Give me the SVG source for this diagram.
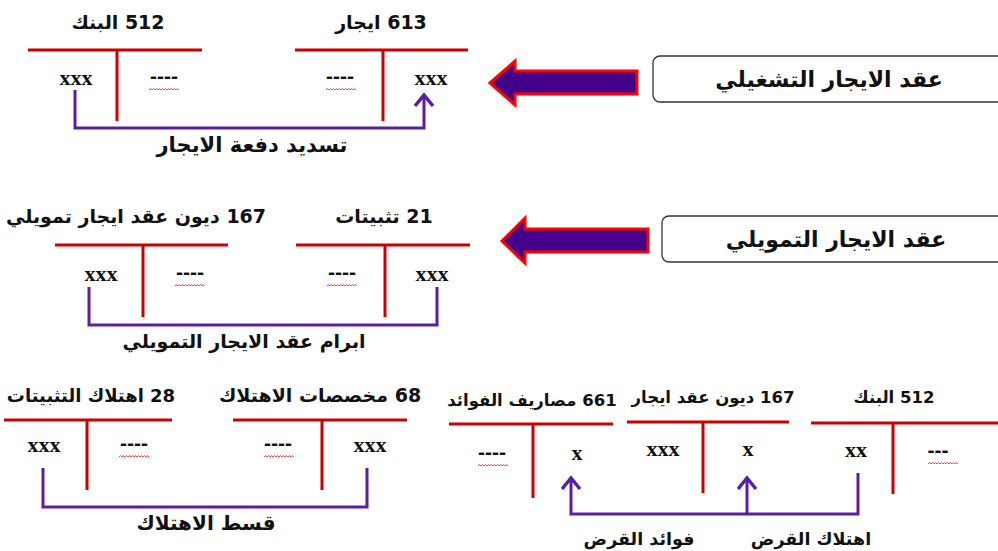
<svg xmlns="http://www.w3.org/2000/svg" xmlns:xlink="http://www.w3.org/1999/xlink" width="998" height="551" viewBox="0 0 998 551">
  <style>
    .bg { fill: #ffffff; }
    .acct { stroke: #cc0000; stroke-width: 3; fill: none; }
    .flow { stroke: #5a1e9e; stroke-width: 3; fill: none; stroke-linejoin: miter; }
    .head { stroke: #5a1e9e; stroke-width: 3.5; fill: none; stroke-linecap: butt; stroke-linejoin: miter; }
    .title { font-family: "DejaVu Sans", "Noto Sans", sans-serif; font-weight: bold; font-size: 19px; fill: #111; direction: rtl; text-anchor: middle; }
    .title.sm { font-size: 16.5px; }
    .label { font-family: "DejaVu Sans", "Noto Sans", sans-serif; font-weight: bold; font-size: 21px; fill: #111; direction: rtl; text-anchor: middle; }
    .label.md { font-size: 19px; }
    .label.sm { font-size: 17.5px; }
    .boxtext { font-family: "DejaVu Sans", "Noto Sans", sans-serif; font-weight: bold; font-size: 22px; fill: #111; direction: rtl; text-anchor: middle; }
    .amt { font-family: "Liberation Serif", serif; font-weight: bold; font-size: 22px; fill: #111; text-anchor: middle; }
    .dash { font-family: "Liberation Sans", sans-serif; font-weight: bold; font-size: 21px; fill: #111; text-anchor: middle; }
    .box { fill: #ffffff; stroke: #333; stroke-width: 1.3; }
    .bigarrow { fill: #440088; stroke: #ff0000; stroke-width: 3; stroke-linejoin: miter; }
    .wave { stroke: #ff3030; stroke-width: 0.9; fill: none; }
  </style>
  <defs>
    <path id="squiggle" class="wave" d="M0 0 l1.5 -1.5 l1.5 1.5 l1.5 -1.5 l1.5 1.5 l1.5 -1.5 l1.5 1.5 l1.5 -1.5 l1.5 1.5 l1.5 -1.5 l1.5 1.5 l1.5 -1.5 l1.5 1.5 l1.5 -1.5 l1.5 1.5 l1.5 -1.5 l1.5 1.5 l1.5 -1.5 l1.5 1.5 l1.5 -1.5 l1.5 1.5"/>
  </defs>
  <rect class="bg" x="0" y="0" width="998" height="551"/>

  <!-- Operating lease banner -->
  <g id="operating-lease">
    <rect class="box" x="653" y="56" width="360" height="46" rx="7"/>
    <text class="boxtext" x="829" y="87">عقد الايجار التشغيلي</text>
  </g>
  <g id="operating-arrow">
    <polygon class="bigarrow" points="490,83 515,61 515,71 637,71 637,94 515,94 515,105"/>
  </g>

  <!-- Finance lease banner -->
  <g id="finance-lease">
    <rect class="box" x="662" y="216" width="360" height="46" rx="7"/>
    <text class="boxtext" x="836" y="247">عقد الايجار التمويلي</text>
  </g>
  <g id="finance-arrow">
    <polygon class="bigarrow" points="502,241 525,218 525,229 648,229 648,252 525,252 525,263"/>
  </g>

  <!-- Row 1: rent payment -->
  <g id="acct-512-a">
    <text class="title" x="118" y="29">512 البنك</text>
    <path class="acct" d="M28 50 H202 M117 50 V121"/>
    <text class="amt" x="76" y="85">xxx</text>
    <text class="dash" x="164" y="83">----</text>
    <use xlink:href="#squiggle" x="149" y="90"/>
  </g>
  <g id="acct-613">
    <text class="title" x="381" y="29">613 ايجار</text>
    <path class="acct" d="M295 50 H468 M383 50 V121"/>
    <text class="dash" x="340" y="83">----</text>
    <use xlink:href="#squiggle" x="326" y="90"/>
    <text class="amt" x="431" y="85">xxx</text>
  </g>

  <!-- Row 2: finance lease inception -->
  <g id="acct-167-a">
    <text class="title" x="136" y="223">167 ديون عقد ايجار تمويلي</text>
    <path class="acct" d="M55 245 H228 M143 245 V317"/>
    <text class="amt" x="101" y="281">xxx</text>
    <text class="dash" x="190" y="279">----</text>
    <use xlink:href="#squiggle" x="175" y="286"/>
  </g>
  <g id="acct-21">
    <text class="title" x="384" y="223">21 تثبيتات</text>
    <path class="acct" d="M296 245 H470 M385 245 V317"/>
    <text class="dash" x="342" y="279">----</text>
    <use xlink:href="#squiggle" x="327" y="286"/>
    <text class="amt" x="432" y="281">xxx</text>
  </g>

  <!-- Row 3 left: depreciation -->
  <g id="acct-28">
    <text class="title" x="91" y="402" style="font-size:18px">28 اهتلاك التثبيتات</text>
    <path class="acct" d="M4 420 H172 M87 420 V490"/>
    <text class="amt" x="44" y="452">xxx</text>
    <text class="dash" x="134" y="450">----</text>
    <use xlink:href="#squiggle" x="119" y="457"/>
  </g>
  <g id="acct-68">
    <text class="title" x="320" y="402">68 مخصصات الاهتلاك</text>
    <path class="acct" d="M233 420 H407 M322 420 V490"/>
    <text class="dash" x="278" y="450">----</text>
    <use xlink:href="#squiggle" x="264" y="457"/>
    <text class="amt" x="370" y="452">xxx</text>
  </g>

  <!-- Row 3 right: loan repayment -->
  <g id="acct-661">
    <text class="title sm" x="532" y="406">661 مصاريف الفوائد</text>
    <path class="acct" d="M449 424 H613 M533 424 V498"/>
    <text class="dash" x="492" y="459">----</text>
    <use xlink:href="#squiggle" x="478" y="466"/>
    <text class="amt" x="577" y="460">x</text>
  </g>
  <g id="acct-167-b">
    <text class="title sm" x="713" y="403">167 ديون عقد ايجار</text>
    <path class="acct" d="M627 422 H789 M703 422 V493"/>
    <text class="amt" x="663" y="456">xxx</text>
    <text class="amt" x="748" y="456">x</text>
  </g>
  <g id="acct-512-b">
    <text class="title sm" x="894" y="403">512 البنك</text>
    <path class="acct" d="M811 423 H1000 M893 423 V494"/>
    <text class="amt" x="856" y="457">xx</text>
    <text class="dash" x="938" y="457">---</text>
    <use xlink:href="#squiggle" x="928" y="464"/>
  </g>

  <!-- Flow connectors and their captions -->
  <g id="connectors">
    <path class="flow" d="M75 90 V128 H424 V96"/>
    <polyline class="head" points="415,106 424,95 433,106"/>
    <text class="label" x="252" y="152">تسديد دفعة الايجار</text>

    <path class="flow" d="M89 287 V325 H437 V287"/>
    <text class="label md" x="244" y="348">ابرام عقد الايجار التمويلي</text>

    <path class="flow" d="M43 468 V507 H367 V468"/>
    <text class="label" x="206" y="530" style="font-size:20px">قسط الاهتلاك</text>

    <path class="flow" d="M858 473 V514 H571 V479"/>
    <path class="flow" d="M747 514 V479"/>
    <polyline class="head" points="562,489 571,478 580,489"/>
    <polyline class="head" points="738,489 747,478 756,489"/>
    <text class="label sm" x="639" y="545">فوائد القرض</text>
    <text class="label sm" x="811" y="545">اهتلاك القرض</text>
  </g>
</svg>
